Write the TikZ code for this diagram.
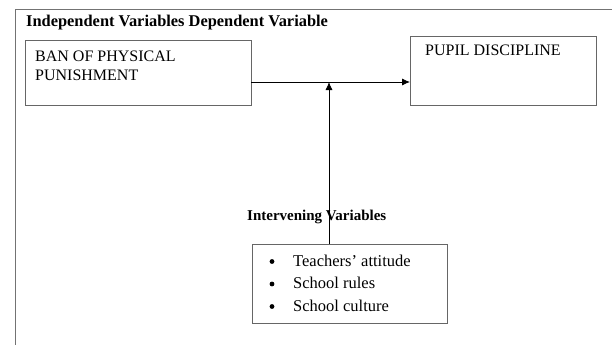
\documentclass[tikz,border=0pt]{standalone}
\usepackage{fontspec}
\setmainfont{Liberation Serif}
\usetikzlibrary{arrows.meta}
\begin{document}
\begin{tikzpicture}[x=1pt,y=-1pt,
  frame/.style={draw=black!55,line width=0.8pt},
  box/.style={draw=black!60,line width=0.8pt},
  lbl/.style={anchor=base west,inner sep=0pt,font=\fontsize{16}{18}\selectfont},
  item/.style={anchor=base west,inner sep=0pt,font=\fontsize{16.5}{18}\selectfont},
  hdr/.style={anchor=base west,inner sep=0pt,font=\fontsize{16.4}{18}\selectfont\bfseries},
  ivhdr/.style={anchor=base west,inner sep=0pt,font=\fontsize{15}{17}\selectfont\bfseries},
  conn/.style={draw=black,line width=0.8pt,-{Latex[length=8pt,width=7pt]}}]
\useasboundingbox (0,0) rectangle (612,345);
\draw[frame] (612,9) -- (15,9) -- (15,345);
\node[hdr] (title) at (26,27) {Independent Variables Dependent Variable};
\draw[box] (25,40) rectangle (251,105);
\coordinate (banR) at (251,82);
\node[lbl] (bt1) at (35,61) {BAN OF PHYSICAL};
\node[lbl] (bt2) at (35,80) {PUNISHMENT};
\draw[box] (410,36) rectangle (596,105);
\coordinate (pupL) at (410,82);
\node[lbl] (pt) at (425,56) {PUPIL DISCIPLINE};
\node[ivhdr] (iv) at (247,220) {Intervening Variables};
\draw[box] (252,244) rectangle (447,323);
\coordinate (ivT) at (329,244);
\coordinate (join) at (329,82);
\node[item] (i1) at (293,266) {Teachers' attitude};
\node[item] (i2) at (293,288.5) {School rules};
\node[item] (i3) at (293,311) {School culture};
\fill (272,261.5) circle (2.4pt);
\fill (272,284) circle (2.4pt);
\fill (272,306.5) circle (2.4pt);
\draw[conn] (banR) -- (pupL);
\draw[conn] (ivT) -- (join);
\end{tikzpicture}
\end{document}
